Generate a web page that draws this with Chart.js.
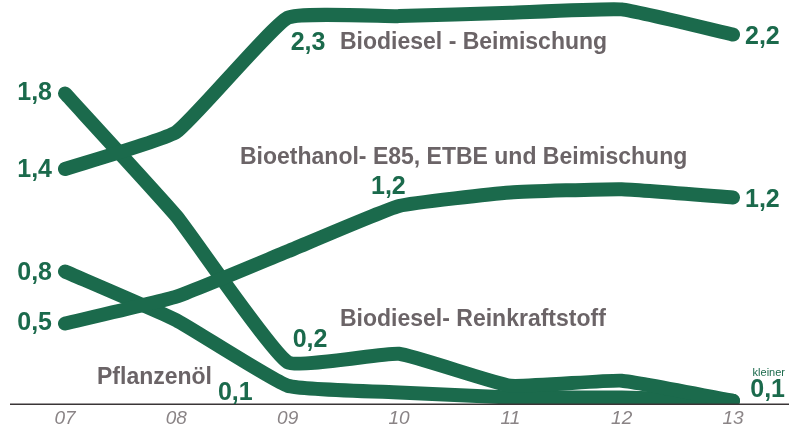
<!DOCTYPE html>
<html>
<head>
<meta charset="utf-8">
<script src="https://cdn.jsdelivr.net/npm/chart.js@4.4.1/dist/chart.umd.min.js"></script>
<style>
  html, body { margin: 0; padding: 0; background: #ffffff; }
  #wrap { width: 789px; height: 433px; position: relative; }
</style>
</head>
<body>
<div id="wrap"><canvas id="fuelChart"></canvas></div>
<script>
// years (x axis)
const years = ['07', '08', '09', '10', '11', '12', '13'];

// series values (Mio. t)
const biodieselBeimischung = [1.4, 1.62, 2.3, 2.31, 2.33, 2.35, 2.2];
const bioethanol = [0.48, 0.64, 0.91, 1.18, 1.26, 1.28, 1.23];
const biodieselRein = [1.85, 1.12, 0.25, 0.3, 0.11, 0.14, 0.02];
const pflanzenoel = [0.79, 0.5, 0.11, 0.07, 0.04, 0.04, 0.02];

const green = '#1b6a4c';
const grey = '#6b6467';

// value labels: [dataset index, point index, text, dx, dy, align]
const valueLabels = [
    [2, 0, '1,8', -13, 0, 'right'],
    [0, 0, '1,4', -13, 1, 'right'],
    [3, 0, '0,8', -13, 2, 'right'],
    [1, 0, '0,5', -13, 0, 'right'],
    [0, 2, '2,3', 3, 25, 'left'],
    [0, 6, '2,2', 12, 3, 'left'],
    [1, 3, '1,2', -28, -19, 'left'],
    [1, 6, '1,2', 12, 3, 'left'],
    [2, 2, '0,2', 5, -22, 'left'],
    [3, 2, '0,1', -35, 7, 'right'],
    [3, 6, '0,1', 52, -11, 'right']
];

// series names: [text, x, y]
const seriesNames = [
    ['Biodiesel - Beimischung', 340, 43],
    ['Bioethanol- E85, ETBE und Beimischung', 240, 158],
    ['Biodiesel- Reinkraftstoff', 340, 320],
    ['Pflanzenöl', 97, 378]
];

const labelPlugin = {
    id: 'labelPlugin',
    afterDraw(chart) {
        const ctx = chart.ctx;
        ctx.save();
        // baseline
        const yZero = chart.scales.y.getPixelForValue(0);
        ctx.strokeStyle = '#3a3536';
        ctx.lineWidth = 1.5;
        ctx.beginPath();
        ctx.moveTo(10, yZero);
        ctx.lineTo(789, yZero);
        ctx.stroke();

        ctx.textBaseline = 'middle';
        ctx.fillStyle = green;
        ctx.font = 'bold 25px "Liberation Sans", Arial, sans-serif';
        valueLabels.forEach(([ds, i, txt, dx, dy, align]) => {
            const pt = chart.getDatasetMeta(ds).data[i];
            ctx.textAlign = align;
            ctx.fillText(txt, pt.x + dx, pt.y + dy);
        });

        // "kleiner" above last value
        const last = chart.getDatasetMeta(3).data[6];
        ctx.font = '11px "Liberation Sans", Arial, sans-serif';
        ctx.textAlign = 'right';
        ctx.fillText('kleiner', last.x + 52, last.y - 28);

        ctx.fillStyle = grey;
        ctx.textAlign = 'left';
        ctx.font = 'bold 23px "Liberation Sans", Arial, sans-serif';
        seriesNames.forEach(([txt, x, y]) => ctx.fillText(txt, x, y));
        ctx.restore();
    }
};

function makeSet(values) {
    return {
        data: values,
        borderColor: green,
        borderWidth: 14,
        borderCapStyle: 'round',
        borderJoinStyle: 'round',
        tension: 0.12,
        pointRadius: 0,
        fill: false
    };
}

new Chart(document.getElementById('fuelChart'), {
    type: 'line',
    data: {
        labels: years,
        datasets: [
            makeSet(biodieselBeimischung),
            makeSet(bioethanol),
            makeSet(biodieselRein),
            makeSet(pflanzenoel)
        ]
    },
    options: {
        responsive: true,
        maintainAspectRatio: false,
        animation: false,
        layout: { padding: { left: 65, right: 56, top: 1, bottom: 0 } },
        plugins: {
            legend: { display: false },
            tooltip: { enabled: false }
        },
        scales: {
            x: {
                grid: { display: false, drawTicks: false },
                border: { display: false },
                ticks: {
                    color: '#8a8486',
                    padding: 3,
                    font: { family: '"Liberation Sans", Arial, sans-serif', size: 19, style: 'italic' }
                }
            },
            y: {
                display: false,
                min: 0,
                max: 2.4
            }
        }
    },
    plugins: [labelPlugin]
});
</script>
</body>
</html>
